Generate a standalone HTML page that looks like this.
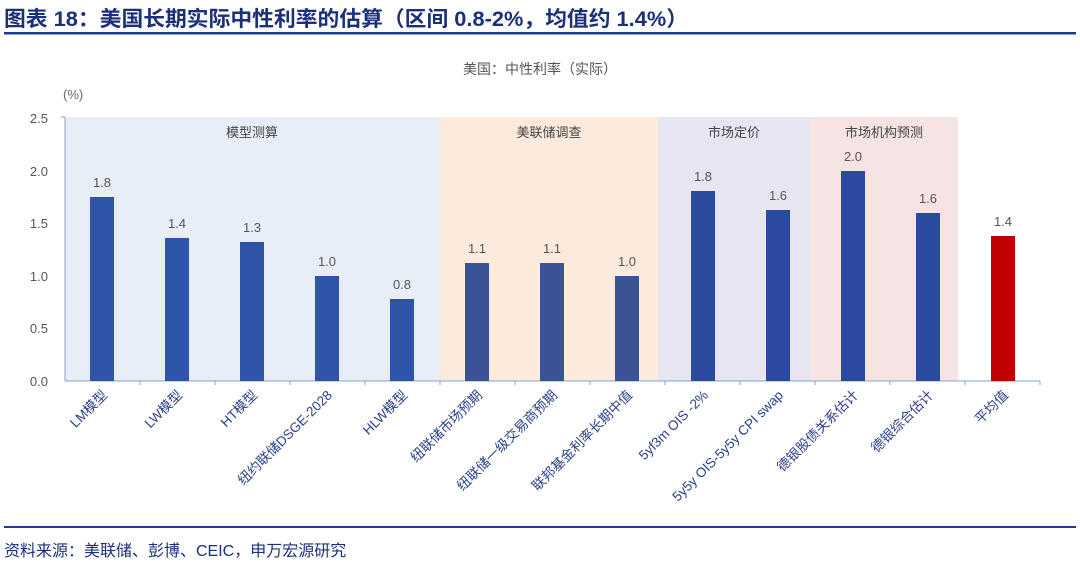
<!DOCTYPE html>
<html><head><meta charset="utf-8"><style>
body{margin:0;width:1080px;height:567px;background:#fff;overflow:hidden;font-family:"Liberation Sans","Noto Sans CJK SC",sans-serif}
</style></head><body>
<svg width="1080" height="567" xmlns="http://www.w3.org/2000/svg" font-family="Liberation Sans, Noto Sans CJK SC, sans-serif">
<text x="4" y="26" font-size="21" font-weight="bold" fill="#1c2f7a" textLength="684" lengthAdjust="spacingAndGlyphs">图表 18：美国长期实际中性利率的估算（区间 0.8-2%，均值约 1.4%）</text>
<rect x="4" y="32" width="1072" height="2.5" fill="#1c3c96"/>
<text x="540" y="74" font-size="14" fill="#555" text-anchor="middle">美国：中性利率（实际）</text>
<text x="63" y="99" font-size="13" fill="#666">(%)</text>
<rect x="65" y="117" width="375" height="264" fill="#e8eef8"/>
<rect x="440" y="117" width="218" height="264" fill="#fcebdc"/>
<rect x="658" y="117" width="152" height="264" fill="#e7e5f2"/>
<rect x="810" y="117" width="148" height="264" fill="#f6e4e4"/>
<g font-size="13" fill="#444" text-anchor="middle">
<text x="252" y="137">模型测算</text><text x="549" y="137">美联储调查</text>
<text x="734" y="137">市场定价</text><text x="884" y="137">市场机构预测</text>
</g>
<line x1="65" y1="117" x2="65" y2="381" stroke="#8aa0c8"/>
<line x1="61" y1="117" x2="65" y2="117" stroke="#8aa0c8"/>
<line x1="65" y1="381" x2="1040" y2="381" stroke="#8aa0c8"/>
<g font-size="13" fill="#555" text-anchor="end">
<text x="48" y="123">2.5</text><text x="48" y="176">2.0</text><text x="48" y="228">1.5</text>
<text x="48" y="281">1.0</text><text x="48" y="333">0.5</text><text x="48" y="386">0.0</text>
</g>
<g stroke="#8aa0c8">
<line x1="140" y1="381" x2="140" y2="385"/><line x1="215" y1="381" x2="215" y2="385"/><line x1="290" y1="381" x2="290" y2="385"/><line x1="365" y1="381" x2="365" y2="385"/><line x1="440" y1="381" x2="440" y2="385"/><line x1="515" y1="381" x2="515" y2="385"/><line x1="590" y1="381" x2="590" y2="385"/><line x1="665" y1="381" x2="665" y2="385"/><line x1="740" y1="381" x2="740" y2="385"/><line x1="815" y1="381" x2="815" y2="385"/><line x1="890" y1="381" x2="890" y2="385"/><line x1="965" y1="381" x2="965" y2="385"/><line x1="1040" y1="381" x2="1040" y2="385"/>
</g>
<g>
<rect x="90" y="197" width="24" height="184" fill="#2f55a8"/>
<rect x="165" y="238" width="24" height="143" fill="#2f55a8"/>
<rect x="240" y="242" width="24" height="139" fill="#2f55a8"/>
<rect x="315" y="276" width="24" height="105" fill="#2f55a8"/>
<rect x="390" y="299" width="24" height="82" fill="#2f55a8"/>
<rect x="465" y="263" width="24" height="118" fill="#3a5296"/>
<rect x="540" y="263" width="24" height="118" fill="#3a5296"/>
<rect x="615" y="276" width="24" height="105" fill="#3a5296"/>
<rect x="691" y="191" width="24" height="190" fill="#2a4aa0"/>
<rect x="766" y="210" width="24" height="171" fill="#2a4aa0"/>
<rect x="841" y="171" width="24" height="210" fill="#2a4aa0"/>
<rect x="916" y="213" width="24" height="168" fill="#2a4aa0"/>
<rect x="991" y="236" width="24" height="145" fill="#c00000"/>
</g>
<g font-size="13" fill="#555" text-anchor="middle">
<text x="102" y="187">1.8</text><text x="177" y="228">1.4</text><text x="252" y="232">1.3</text>
<text x="327" y="266">1.0</text><text x="402" y="289">0.8</text><text x="477" y="253">1.1</text>
<text x="552" y="253">1.1</text><text x="627" y="266">1.0</text><text x="703" y="181">1.8</text>
<text x="778" y="200">1.6</text><text x="853" y="161">2.0</text><text x="928" y="203">1.6</text>
<text x="1003" y="226">1.4</text>
</g>
<g font-size="13.5" fill="#2b3f8a" text-anchor="end">
<text transform="translate(108,396) rotate(-45)">LM模型</text>
<text transform="translate(183,396) rotate(-45)">LW模型</text>
<text transform="translate(258,396) rotate(-45)">HT模型</text>
<text transform="translate(333,396) rotate(-45)">纽约联储DSGE-2028</text>
<text transform="translate(408,396) rotate(-45)">HLW模型</text>
<text transform="translate(483,396) rotate(-45)">纽联储市场预期</text>
<text transform="translate(558,396) rotate(-45)">纽联储一级交易商预期</text>
<text transform="translate(633,396) rotate(-45)">联邦基金利率长期中值</text>
<text transform="translate(709,396) rotate(-45)">5yf3m OIS -2%</text>
<text transform="translate(784,396) rotate(-45)">5y5y OIS-5y5y CPI swap</text>
<text transform="translate(859,396) rotate(-45)">德银股债关系估计</text>
<text transform="translate(934,396) rotate(-45)">德银综合估计</text>
<text transform="translate(1009,396) rotate(-45)">平均值</text>
</g>
<rect x="4" y="526" width="1072" height="2" fill="#1c3c96"/>
<text x="4" y="556" font-size="16" fill="#1c2f7a">资料来源：美联储、彭博、CEIC，申万宏源研究</text>
</svg>
</body></html>
